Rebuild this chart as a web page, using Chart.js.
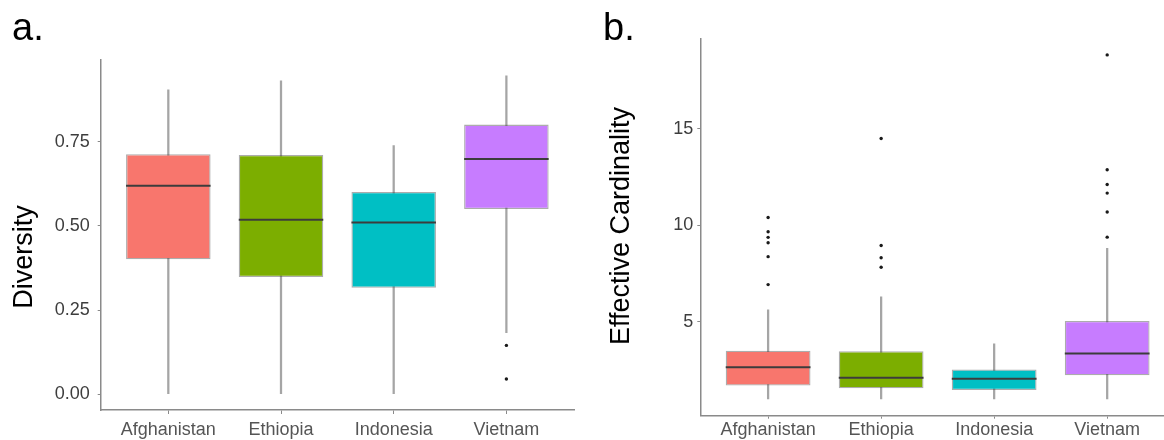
<!DOCTYPE html>
<html>
<head>
<meta charset="utf-8">
<script src="https://cdn.jsdelivr.net/npm/chart.js@4/dist/chart.umd.min.js"></script>
<style>
  html, body { margin: 0; padding: 0; background: #fff; }
  body { position: relative; width: 1164px; height: 440px; overflow: hidden;
         font-family: "Liberation Sans", Arial, sans-serif; }
  canvas { position: absolute; top: 0; }
  #diversityChart { left: 0; }
  #cardinalityChart { left: 580px; }
  .tag { position: absolute; font-size: 38px; line-height: 1; color: #000; }
  .ytitle { position: absolute; font-size: 27px; line-height: 1; color: #000; white-space: nowrap;
            transform: translate(-50%, -50%) rotate(-90deg); }
</style>
</head>
<body>
<canvas id="diversityChart" width="600" height="440"></canvas>
<canvas id="cardinalityChart" width="600" height="440"></canvas>
<div class="tag" style="left:12px;top:8px">a.</div>
<div class="tag" style="left:603px;top:8px">b.</div>
<div class="ytitle" style="left:22.5px;top:256.5px">Diversity</div>
<div class="ytitle" style="left:620px;top:226px">Effective Cardinality</div>

<script>
// Countries shown on both panels
const countries = ['Afghanistan', 'Ethiopia', 'Indonesia', 'Vietnam'];
const boxFills = ['#F8766D', '#7CAE00', '#00BFC4', '#C77CFF'];

// Panel a: Diversity (five-number summaries + outliers)
const diversityLow    = [0.000, 0.000, 0.000, 0.183];
const diversityQ1     = [0.401, 0.348, 0.316, 0.550];
const diversityMedian = [0.619, 0.518, 0.510, 0.699];
const diversityQ3     = [0.713, 0.711, 0.601, 0.801];
const diversityHigh   = [0.904, 0.931, 0.739, 0.946];
const diversityOutliers = [[], [], [], [0.145, 0.045]];
const diversityTicks = [0, 0.25, 0.5, 0.75];

// Panel b: Effective Cardinality
const cardinalityLow    = [1.00, 1.00, 1.00, 1.00];
const cardinalityQ1     = [1.69, 1.55, 1.46, 2.22];
const cardinalityMedian = [2.64, 2.10, 2.05, 3.35];
const cardinalityQ3     = [3.50, 3.47, 2.52, 5.04];
const cardinalityHigh   = [5.61, 6.29, 3.85, 8.80];
const cardinalityOutliers = [
  [10.40, 9.66, 9.37, 9.09, 8.37, 6.92],
  [14.49, 8.95, 8.31, 7.82],
  [],
  [18.82, 12.87, 12.11, 11.66, 10.68, 9.38]
];
const cardinalityTicks = [5, 10, 15];

Chart.defaults.font.family = '"Liberation Sans", Arial, sans-serif';

const AXIS_GREY = '#8a8a8a';
const HALF_BOX = 0.375; // half box width in category units

function boxPanel(canvasId, p) {
  const idx = countries.map((_, i) => i);
  return new Chart(document.getElementById(canvasId), {
    type: 'bar',
    data: {
      datasets: [
        {
          type: 'scatter', label: 'outliers', order: 0,
          data: p.outliers.flatMap((vals, i) => vals.map(v => ({ x: i, y: v }))),
          pointRadius: 1.7, pointBackgroundColor: '#1a1a1a', pointBorderWidth: 0
        },
        {
          type: 'scatter', label: 'median', order: 1,
          data: idx.map(i => ({ x: i, y: p.median[i] })),
          pointStyle: 'line',
          pointRadius: c => {
            const s = c.chart.scales.x;
            return s.getPixelForValue(HALF_BOX) - s.getPixelForValue(0);
          },
          pointBorderWidth: 2, pointBorderColor: '#3c3c3c'
        },
        {
          type: 'bar', label: 'box', order: 2,
          data: idx.map(i => ({ x: i, y: [p.q1[i], p.q3[i]] })),
          backgroundColor: boxFills,
          borderColor: 'rgba(70,70,70,0.45)', borderWidth: 1.3, borderSkipped: false,
          grouped: false, barPercentage: 0.75, categoryPercentage: 1
        },
        {
          type: 'bar', label: 'whisker', order: 3,
          data: idx.map(i => ({ x: i, y: [p.low[i], p.high[i]] })),
          backgroundColor: '#a5a5a5', barThickness: 1.6, grouped: false
        }
      ]
    },
    options: {
      responsive: false,
      animation: false,
      events: [],
      layout: { padding: { left: 0, top: p.padTop, right: p.padRight, bottom: 0 } },
      plugins: { legend: { display: false }, tooltip: { enabled: false } },
      scales: {
        x: {
          type: 'linear', min: -0.6, max: 3.6, offset: false,
          afterBuildTicks: s => { s.ticks = idx.map(v => ({ value: v })); },
          afterFit: s => { s.height = p.xAxisHeight; },
          ticks: {
            callback: v => countries[v] ?? '',
            font: { size: 18 }, color: '#555', padding: p.xTickPad,
            maxRotation: 0, autoSkip: false
          },
          grid: { display: true, drawOnChartArea: false, drawTicks: true,
                  tickLength: p.xTickLen, tickColor: AXIS_GREY, offset: false },
          border: { display: true, color: AXIS_GREY, width: 1.5 }
        },
        y: {
          type: 'linear', min: p.yMin, max: p.yMax, beginAtZero: false,
          afterBuildTicks: s => { s.ticks = p.yTicks.map(v => ({ value: v })); },
          afterFit: s => { s.width = p.yAxisWidth; },
          ticks: { callback: p.yFormat, font: { size: 18 }, color: '#3d3d3d', padding: p.yTickPad },
          grid: { display: true, drawOnChartArea: false, drawTicks: true,
                  tickLength: 3, tickColor: AXIS_GREY },
          border: { display: true, color: AXIS_GREY, width: 1.5 }
        }
      }
    }
  });
}

boxPanel('diversityChart', {
  low: diversityLow, q1: diversityQ1, median: diversityMedian, q3: diversityQ3, high: diversityHigh,
  outliers: diversityOutliers, yTicks: diversityTicks, yFormat: v => v.toFixed(2),
  yMin: -0.047, yMax: 0.993,
  padTop: 60, padRight: 26, yAxisWidth: 100.7, xAxisHeight: 30,
  yTickPad: 8, xTickPad: 5, xTickLen: 4
});

boxPanel('cardinalityChart', {
  low: cardinalityLow, q1: cardinalityQ1, median: cardinalityMedian, q3: cardinalityQ3, high: cardinalityHigh,
  outliers: cardinalityOutliers, yTicks: cardinalityTicks, yFormat: v => String(v),
  yMin: 0.13, yMax: 19.68,
  padTop: 38.3, padRight: 5, yAxisWidth: 120.3, xAxisHeight: 24.3,
  yTickPad: 4, xTickPad: 0.5, xTickLen: 3
});
</script>
</body>
</html>
